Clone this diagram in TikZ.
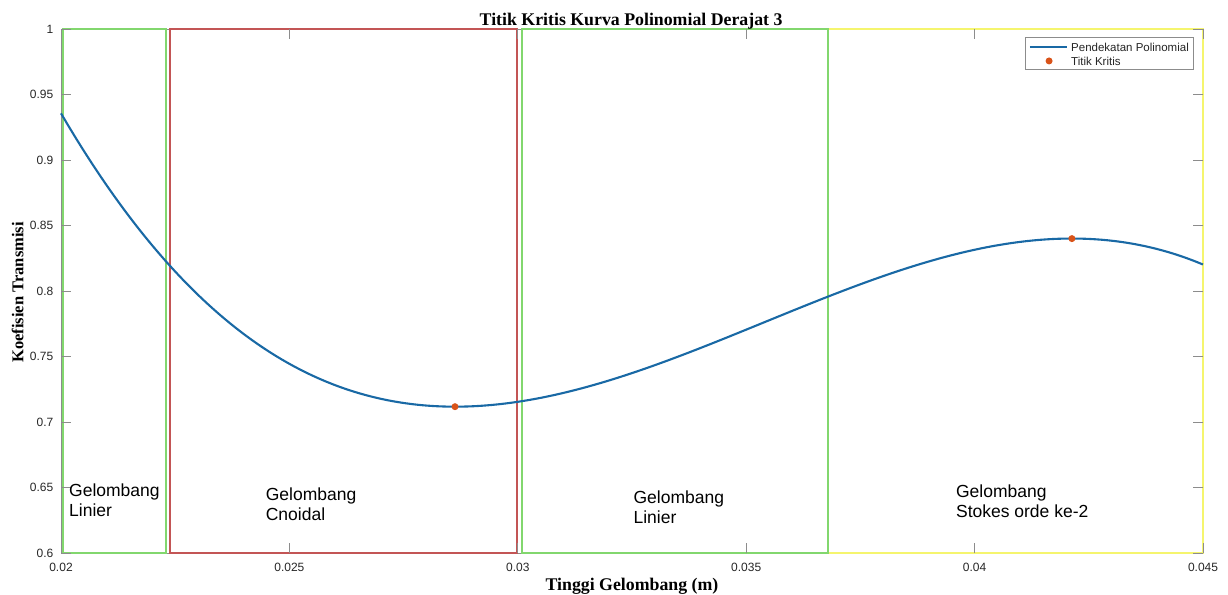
\documentclass[tikz,border=0pt]{standalone}
\usepackage{fontspec}
\setmainfont{Liberation Serif}
\setsansfont{Liberation Sans}
\usepackage{tikz}
\usepackage{xcolor}
\definecolor{CurveBlue}{RGB}{25,105,165}
\definecolor{DotOrange}{RGB}{217,83,25}
\definecolor{ZoneGreen}{RGB}{130,215,110}
\definecolor{ZoneRed}{RGB}{195,85,85}
\definecolor{ZoneYellow}{RGB}{245,245,110}
\definecolor{AxisGray}{RGB}{140,140,140}

\begin{document}
\begin{tikzpicture}[x=45.68pt,y=13.1pt,
  ticklbl/.style={font=\sffamily\fontsize{12}{14}\selectfont, inner sep=0pt, text=black!85},
  zonelbl/.style={font=\sffamily\fontsize{17.5}{20}\selectfont, align=left, anchor=north west, inner sep=0pt},
  axislbl/.style={font=\bfseries\fontsize{17.8}{20}\selectfont, inner sep=0pt},
  zone/.style={line width=1.8pt},
  critdot/.style={circle, fill=DotOrange, inner sep=0pt, minimum size=7pt}]

\useasboundingbox (-1.3354,-3.1298) rectangle (25.547,42.214);

% axes box
\draw[AxisGray, line width=0.8pt] (0,0) rectangle (25,40);

% wave zones
\draw[zone, ZoneGreen] (0.05,0) rectangle (2.30,40);
\draw[zone, ZoneRed] (2.39,0) rectangle (9.98,40);
\draw[zone, ZoneYellow] (16.79,0) rectangle (25,40);
\draw[zone, ZoneGreen] (10.09,0) rectangle (16.79,40);

% ticks and tick labels
\foreach \xt/\xl in {0/0.02, 5/0.025, 10/0.03, 15/0.035, 20/0.04, 25/0.045} {
  \draw[AxisGray, line width=0.8pt] (\xt,0) -- ++(0,10pt) (\xt,40) -- ++(0,-10pt);
  \node[ticklbl] (xl\xt) at (\xt,-1.07) {\xl};
}
\foreach \yt/\yl in {0/0.6, 5/0.65, 10/0.7, 15/0.75, 20/0.8, 25/0.85, 30/0.9, 35/0.95, 40/1} {
  \draw[AxisGray, line width=0.8pt] (0,\yt) -- ++(10pt,0) (25,\yt) -- ++(-10pt,0);
  \node[ticklbl, anchor=east] (yl\yt) at (-0.164,\yt) {\yl};
}

% polynomial curve
\draw[CurveBlue, line width=2.1pt, domain=0:25, samples=150, smooth] plot (\x, {11.17 - 0.010418*((\x-8.625)*(\x-8.625)*(\x-8.625) - 20.2575*(\x-8.625)*(\x-8.625))});
\node[critdot] (minpt) at (8.625,11.17) {};
\node[critdot] (maxpt) at (22.13,24.0) {};

% zone labels
\node[zonelbl] (linier1) at (0.175,5.27) {Gelombang\\Linier};
\node[zonelbl] (cnoidal) at (4.48,4.98) {Gelombang\\Cnoidal};
\node[zonelbl] (linier2) at (12.53,4.73) {Gelombang\\Linier};
\node[zonelbl] (stokes) at (19.59,5.19) {Gelombang\\Stokes orde ke-2};

% legend
\draw[AxisGray, fill=white, line width=0.8pt] (21.12,36.95) rectangle (24.78,39.39);
\coordinate (lgA) at (21.21,38.63);
\coordinate (lgB) at (22.02,38.63);
\draw[CurveBlue, line width=2.1pt] (lgA) -- (lgB);
\node[critdot] (lgdot) at (21.63,37.56) {};
\node[ticklbl, font=\sffamily\fontsize{11.5}{13}\selectfont, anchor=west] (lgline) at (22.11,38.63) {Pendekatan Polinomial};
\node[ticklbl, font=\sffamily\fontsize{11.5}{13}\selectfont, anchor=west] (lgdottxt) at (22.11,37.56) {Titik Kritis};

% titles
\node[axislbl, anchor=base] (title) at (12.48,40.25) {Titik Kritis Kurva Polinomial Derajat 3};
\node[axislbl, anchor=base] (xlabel) at (12.5,-2.88) {Tinggi Gelombang (m)};
\node[axislbl, font=\bfseries\fontsize{16.5}{20}\selectfont, rotate=90, anchor=base] (ylabel) at (-0.825,19.9) {Koefisien Transmisi};
\end{tikzpicture}
\end{document}
